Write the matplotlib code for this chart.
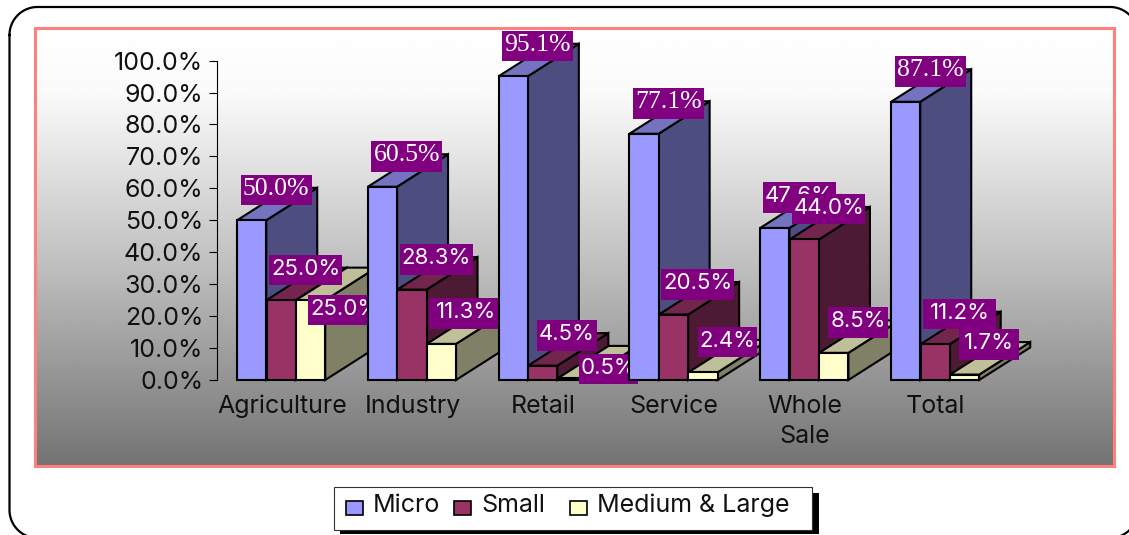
import numpy as np
import matplotlib
matplotlib.use('Agg')
import matplotlib.pyplot as plt
from matplotlib.patches import Polygon, Rectangle
from matplotlib.transforms import IdentityTransform, ScaledTranslation

categories = ['Agriculture', 'Industry', 'Retail', 'Service', 'Whole\nSale', 'Total']
series_names = ['Micro', 'Small', 'Medium & Large']
micro = [50.0, 60.5, 95.1, 77.1, 47.6, 87.1]
small = [25.0, 28.3, 4.5, 20.5, 44.0, 11.2]
medium_large = [25.0, 11.3, 0.5, 2.4, 8.5, 1.7]
yticks = [0, 10, 20, 30, 40, 50, 60, 70, 80, 90, 100]

# front, top, side colours of each series
front_colors = ['#9999FF', '#993366', '#FFFFCC']
top_colors = ['#7373BF', '#73264D', '#BFBF99']
side_colors = ['#4D4D80', '#4D1A33', '#808066']

SANS = 'Inter'
SERIF = 'Liberation Serif'
W, H = 1129, 535
GROUP_PX = 130.8
BAR_W = 29.2 / GROUP_PX
BAR_START = -0.343
Y_SCALE = 3.194
DEPTH_X = 51 / GROUP_PX
DEPTH_Y = 32.5 / Y_SCALE
LABEL_PURPLE = '#800080'

fig = plt.figure(figsize=(W / 100, H / 100), dpi=100, facecolor='white')

# page layer in pixel coordinates: rounded border, pink frame, gradient, legend
page = fig.add_axes([0, 0, 1, 1])
shade = np.interp(np.linspace(0, 1, 256), [0, 0.15, 0.55, 1], [255, 250, 190, 116]).reshape(-1, 1)
page.imshow(shade, cmap='gray', vmin=0, vmax=255, aspect='auto',
            extent=(34.5, 1113.5, 465.5, 27.5))
page.set_xlim(0, W)
page.set_ylim(H, 0)
page.axis('off')

# border outline, corners as quarter circles
x0, x1, y0, y1, r = 9.5, 1138, 7, 538, 28
angles = np.linspace(0, np.pi / 2, 30)
border_x = np.concatenate([x0 + r - r * np.cos(angles), x1 - r + r * np.sin(angles),
                           x1 - r + r * np.cos(angles), x0 + r - r * np.sin(angles), [x0]])
border_y = np.concatenate([y0 + r - r * np.sin(angles), y0 + r - r * np.cos(angles),
                           y1 - r + r * np.sin(angles), y1 - r + r * np.cos(angles), [y0 + r]])
page.plot(border_x, border_y, color='black', lw=1.6)
page.add_patch(Rectangle((34.5, 27.5), 1079, 438, fc='none', ec='#FF8080', lw=2.2))

# legend
page.add_patch(Rectangle((340, 493), 479, 41, fc='black', ec='none'))
page.add_patch(Rectangle((334, 486.5), 477.5, 43, fc='white', ec='#333333', lw=0.8))
for name, color, swatch_x, text_x in zip(series_names, front_colors, [345.5, 453.5, 569.5], [373, 481, 597]):
    page.add_patch(Rectangle((swatch_x, 501), 17, 14, fc=color, ec='black', lw=1.2))
    page.text(text_x, 505, name, fontsize=18, family=SANS, color='#111111', ha='left', va='center')

# chart axes, 0-100 % over the bars
ax = fig.add_axes([216.5 / W, 155 / H, 6 * GROUP_PX / W, 100 * Y_SCALE / H], zorder=2)
ax.patch.set_visible(False)
ax.set_xlim(-0.5, 5.5)
ax.set_ylim(0, 100)
for side in ['top', 'right', 'bottom']:
    ax.spines[side].set_visible(False)
ax.spines['left'].set_linewidth(0.8)
ax.set_yticks(yticks)
ax.set_yticklabels(['%.1f%%' % t for t in yticks], fontsize=18, family=SANS, color='#111111')
ax.set_xticks(range(len(categories)))
ax.set_xticklabels(categories, fontsize=18, family=SANS, color='#111111', linespacing=1.42)
ax.tick_params(axis='y', length=5.5, width=0.8, pad=4)
ax.tick_params(axis='x', length=0, pad=10.5)


def draw_bar(left, value, j, z):
    right = left + BAR_W
    kw = dict(ec='black', lw=1.5, joinstyle='miter', clip_on=False, zorder=z)
    ax.add_patch(Polygon([(right, 0), (right + DEPTH_X, DEPTH_Y), (right + DEPTH_X, value + DEPTH_Y), (right, value)],
                         fc=side_colors[j], **kw))
    ax.add_patch(Polygon([(left, value), (left + DEPTH_X, value + DEPTH_Y), (right + DEPTH_X, value + DEPTH_Y), (right, value)],
                         fc=top_colors[j], **kw))
    ax.add_patch(Rectangle((left, 0), BAR_W, value, fc=front_colors[j], **kw))


def draw_label(left, value, center_px, bottom_px, width_px, font, size, z):
    # purple box placed in pixels relative to the bar's top corner
    anchor = IdentityTransform() + ScaledTranslation(left, value, ax.transData)
    ax.add_patch(Rectangle((center_px - width_px / 2, bottom_px), width_px, 30.5, fc=LABEL_PURPLE, ec='none',
                           transform=anchor, clip_on=False, zorder=z))
    ax.annotate('%.1f%%' % value, (left, value), xytext=(center_px, bottom_px + 10.5), textcoords='offset pixels',
                color='white', fontsize=size, family=font, ha='center', va='baseline', zorder=z + 0.1,
                annotation_clip=False)


all_series = [micro, small, medium_large]
# labels that sit away from the usual spot above their bar: (group, series) -> (center, bottom)
moved_labels = {(0, 2): (48.5, -25), (2, 2): (51, -6)}

for i in range(len(categories)):
    base = i * 10
    for j, values in enumerate(all_series):
        draw_bar(i + BAR_START + j * BAR_W * 1.01, values[i], j, base + j + 1)
    for j, values in enumerate(all_series):
        left = i + BAR_START + j * BAR_W * 1.01
        center, bottom = moved_labels.get((i, j), (39, 15))
        serif = j == 0 and i != 4
        if serif:
            width = 71
        elif values[i] >= 10:
            width = 73
        else:
            width = 59.5
        font = SERIF if serif else SANS
        draw_label(left, values[i], center, bottom, width, font, 18.5 if serif else 16, base + 5 + j)

fig.savefig('out.png', dpi=100)
